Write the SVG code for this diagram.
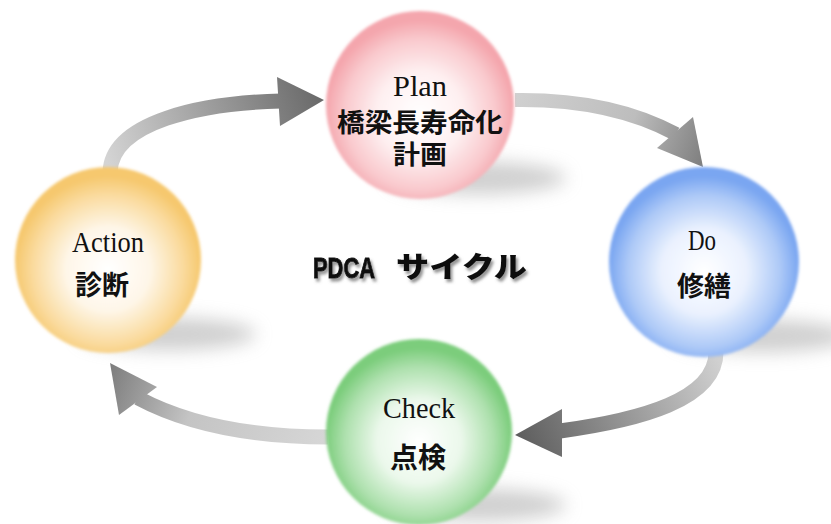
<svg xmlns="http://www.w3.org/2000/svg" width="831" height="524" viewBox="0 0 831 524">
<style>
.lat{font-family:"Liberation Serif","DejaVu Serif",serif;font-size:29px;fill:#111;text-anchor:middle}
.jp{font-family:"Noto Sans CJK JP","Noto Sans CJK SC",sans-serif;font-size:27px;font-weight:bold;fill:#111;text-anchor:middle}
.title{font-family:"Noto Sans CJK JP","Noto Sans CJK SC",sans-serif;font-weight:900;fill:#111}
.titleLat{font-family:"Liberation Sans","Arial",sans-serif;font-weight:bold;fill:#111;stroke:#111;stroke-width:0.9}
.shadow{fill:#a0a0a0;opacity:0.5;filter:url(#blurS)}
.ball{filter:url(#soft)}
</style>
<defs>
<filter id="blurS" x="-50%" y="-100%" width="200%" height="300%"><feGaussianBlur stdDeviation="9"/></filter>
<filter id="soft" x="-10%" y="-10%" width="120%" height="120%"><feGaussianBlur stdDeviation="1.8"/></filter>
<filter id="ds" x="-10%" y="-30%" width="120%" height="160%"><feDropShadow dx="2" dy="3" stdDeviation="1.5" flood-color="#777" flood-opacity="0.8"/></filter>
<radialGradient id="gPink" cx="50%" cy="55%" r="50%"><stop offset="0" stop-color="#ffffff"/><stop offset="0.45" stop-color="#fef0f1"/><stop offset="0.8" stop-color="#f9c9cd"/><stop offset="1" stop-color="#f4a6ad"/></radialGradient>
<radialGradient id="gBlue" cx="50%" cy="55%" r="50%"><stop offset="0" stop-color="#ffffff"/><stop offset="0.45" stop-color="#eaf1fe"/><stop offset="0.8" stop-color="#adc9f7"/><stop offset="1" stop-color="#7aa6f1"/></radialGradient>
<radialGradient id="gOrange" cx="50%" cy="55%" r="50%"><stop offset="0" stop-color="#ffffff"/><stop offset="0.45" stop-color="#fef6e8"/><stop offset="0.8" stop-color="#fadb9f"/><stop offset="1" stop-color="#f6c86e"/></radialGradient>
<radialGradient id="gGreen" cx="50%" cy="55%" r="50%"><stop offset="0" stop-color="#ffffff"/><stop offset="0.45" stop-color="#ebf8eb"/><stop offset="0.8" stop-color="#ade0ad"/><stop offset="1" stop-color="#7ccd7c"/></radialGradient>
<linearGradient id="a1" gradientUnits="userSpaceOnUse" x1="110" y1="170" x2="320" y2="100"><stop offset="0" stop-color="#d4d4d4"/><stop offset="1" stop-color="#6a6a6a"/></linearGradient>
<linearGradient id="a2" gradientUnits="userSpaceOnUse" x1="515" y1="100" x2="700" y2="166"><stop offset="0" stop-color="#d0d0d0"/><stop offset="0.6" stop-color="#bdbdbd"/><stop offset="1" stop-color="#808080"/></linearGradient>
<linearGradient id="a3" gradientUnits="userSpaceOnUse" x1="716" y1="355" x2="520" y2="440"><stop offset="0" stop-color="#d0d0d0"/><stop offset="1" stop-color="#5e5e5e"/></linearGradient>
<linearGradient id="a4" gradientUnits="userSpaceOnUse" x1="325" y1="437" x2="112" y2="364"><stop offset="0" stop-color="#d6d6d6"/><stop offset="0.6" stop-color="#c4c4c4"/><stop offset="1" stop-color="#7e7e7e"/></linearGradient>
</defs>
<rect width="831" height="524" fill="#ffffff"/>

<g id="shadows">
<ellipse class="shadow" cx="168" cy="334" rx="88" ry="16"/>
<ellipse class="shadow" cx="478" cy="178" rx="88" ry="16"/>
<ellipse class="shadow" cx="762" cy="336" rx="88" ry="16"/>
<ellipse class="shadow" cx="478" cy="505" rx="88" ry="16"/>
</g>

<g id="connectors">
<g id="action-plan">
<path d="M110,172 C112,122 200,103 281,101" fill="none" stroke="url(#a1)" stroke-width="15"/>
<polygon points="277,77 324,100 280,126" fill="url(#a1)"/>
</g>
<g id="plan-do">
<path d="M515,100 C585,99 635,112 676,134" fill="none" stroke="url(#a2)" stroke-width="14"/>
<polygon points="693,117 703,167 657,148" fill="url(#a2)"/>
</g>
<g id="do-check">
<path d="M716,352 C716,400 640,420 560,431" fill="none" stroke="url(#a3)" stroke-width="15"/>
<polygon points="562,409 515,435 562,457" fill="url(#a3)"/>
</g>
<g id="check-action">
<path d="M328,437 C250,437 185,423 138,398" fill="none" stroke="url(#a4)" stroke-width="15"/>
<polygon points="157,387 110,363 119,415" fill="url(#a4)"/>
</g>
</g>

<g id="plan">
<circle class="ball" cx="420" cy="105" r="94" fill="url(#gPink)"/>
<text class="lat" x="420" y="96" textLength="54" lengthAdjust="spacingAndGlyphs">Plan</text>
<text class="jp" x="420" y="132" style="font-size:26px" textLength="166" lengthAdjust="spacingAndGlyphs">橋梁長寿命化</text>
<text class="jp" x="420" y="164" style="font-size:26px" textLength="54" lengthAdjust="spacingAndGlyphs">計画</text>
</g>

<g id="do">
<circle class="ball" cx="704" cy="262" r="95" fill="url(#gBlue)"/>
<text class="lat" x="702" y="250" textLength="28" lengthAdjust="spacingAndGlyphs">Do</text>
<text class="jp" x="704" y="296">修繕</text>
</g>

<g id="action">
<circle class="ball" cx="108" cy="260" r="93" fill="url(#gOrange)"/>
<text class="lat" x="108" y="252" textLength="72" lengthAdjust="spacingAndGlyphs">Action</text>
<text class="jp" x="102" y="295">診断</text>
</g>

<g id="check">
<circle class="ball" cx="419" cy="432" r="93" fill="url(#gGreen)"/>
<text class="lat" x="419" y="418" textLength="72" lengthAdjust="spacingAndGlyphs">Check</text>
<text class="jp" x="418" y="468" style="font-size:28px">点検</text>
</g>

<g id="title" filter="url(#ds)">
<text class="titleLat" x="313" y="278" style="font-size:29px" textLength="62" lengthAdjust="spacingAndGlyphs">PDCA</text>
<text class="title" x="396" y="278" style="font-size:29px" textLength="131" lengthAdjust="spacingAndGlyphs">サイクル</text>
</g>
</svg>
